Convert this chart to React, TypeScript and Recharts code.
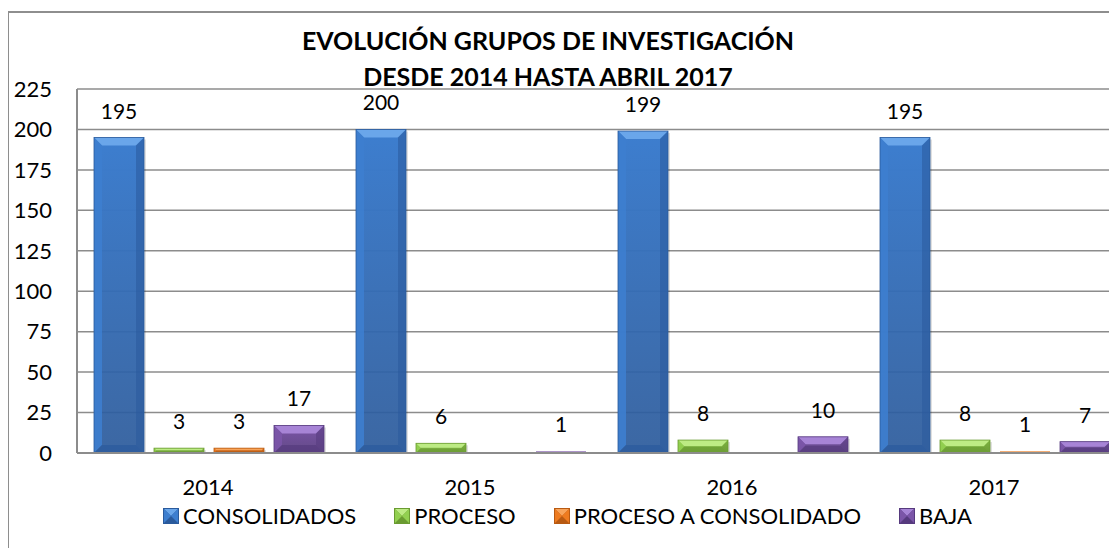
import React from 'react';
import { BarChart, Bar, XAxis, YAxis, CartesianGrid, LabelList, Legend } from 'recharts';

const years = ['2014', '2015', '2016', '2017'];
const consolidados = [195, 200, 199, 195];
const proceso = [3, 6, 8, 8];
const procesoAConsolidado = [3, 0, 0, 1];
const baja = [17, 1, 10, 7];
const yTicks = [0, 25, 50, 75, 100, 125, 150, 175, 200, 225];

const series = [
    { key: 'consolidados', name: 'CONSOLIDADOS', base: '#3d7ecf', light: '#6aa6ea', dark: '#2a5a9c' },
    { key: 'proceso', name: 'PROCESO', base: '#92d050', light: '#bdeb84', dark: '#6a9b31' },
    { key: 'procesoAConsolidado', name: 'PROCESO A CONSOLIDADO', base: '#ee7b1f', light: '#f8a45a', dark: '#b85a12' },
    { key: 'baja', name: 'BAJA', base: '#7b55a8', light: '#a784d6', dark: '#563a7e' },
];

const data = years.map((year, i) => ({
    year,
    consolidados: consolidados[i],
    proceso: proceso[i],
    procesoAConsolidado: procesoAConsolidado[i],
    baja: baja[i],
}));

const FONT = 'Lato, "Open Sans", sans-serif';

const makeBevel = (s: typeof series[number]) => (props: any) => {
    const { x, y, width: w, height: h } = props;
    if (!h || h <= 0) return <g />;
    if (h < 4) {
        return <rect x={x} y={y} width={w} height={h} fill={s.base} />;
    }
    const b = Math.min(8, h / 2.2, w / 3);
    return (
        <g>
            <rect x={x + 2} y={y + 2} width={w} height={h - 2} fill="rgba(0,0,0,0.12)" />
            <rect x={x} y={y} width={w} height={h} fill={`url(#grad-${s.key})`} />
            <polygon points={`${x},${y} ${x + w},${y} ${x + w - b},${y + b} ${x + b},${y + b}`} fill={s.light} />
            <polygon points={`${x},${y} ${x + b},${y + b} ${x + b},${y + h - b} ${x},${y + h}`} fill={s.base} opacity={0.9} />
            <polygon points={`${x + w},${y} ${x + w - b},${y + b} ${x + w - b},${y + h - b} ${x + w},${y + h}`} fill={s.dark} opacity={0.55} />
            <polygon points={`${x},${y + h} ${x + b},${y + h - b} ${x + w - b},${y + h - b} ${x + w},${y + h}`} fill={s.dark} opacity={0.7} />
            <rect x={x} y={y} width={w} height={h} fill="none" stroke={s.dark} strokeWidth={0.8} />
        </g>
    );
};

const LegendContent = () => (
    <div style={{ display: 'flex', alignItems: 'center', fontFamily: FONT, fontSize: 22, color: '#000' }}>
        {series.map((s) => (
            <div key={s.key} style={{ display: 'flex', alignItems: 'center', marginRight: 38 }}>
                <svg width={16} height={16} style={{ marginRight: 4 }}>
                    <rect x={0} y={0} width={16} height={16} fill={s.dark} />
                    <polygon points="1,1 15,1 8,8" fill={s.light} />
                    <polygon points="1,1 8,8 1,15" fill={s.base} />
                    <polygon points="15,1 8,8 15,15" fill={s.base} />
                </svg>
                <span>{s.name}</span>
            </div>
        ))}
    </div>
);

const hideZero = (v: any) => (v === 0 ? '' : v);

export default function App() {
    return (
        <div style={{ position: 'relative', width: 1109, height: 540, overflow: 'hidden', background: '#fff' }}>
            <div style={{ position: 'absolute', left: -1, top: 3, width: 1200, height: 600, border: '2px solid #8e8e8e' }} />
            <div style={{ position: 'absolute', left: 0, top: 14, width: 1080, textAlign: 'center', fontFamily: FONT, fontWeight: 700, fontSize: 25, lineHeight: '36px', color: '#000' }}>
                <div>EVOLUCIÓN GRUPOS DE INVESTIGACIÓN</div>
                <div>DESDE 2014 HASTA ABRIL 2017</div>
            </div>
            <div style={{ position: 'absolute', left: 0, top: 0 }}>
                <BarChart
                    width={1130}
                    height={540}
                    data={data}
                    margin={{ top: 81, right: 13, bottom: 55, left: 0 }}
                    barCategoryGap={17}
                    barGap={10}
                >
                    <defs>
                        {series.map((s) => (
                            <linearGradient key={s.key} id={`grad-${s.key}`} x1="0" y1="0" x2="0" y2="1">
                                <stop offset="0%" stopColor={s.base} />
                                <stop offset="100%" stopColor={s.dark} stopOpacity={0.9} />
                            </linearGradient>
                        ))}
                    </defs>
                    <CartesianGrid vertical={false} stroke="#8c8c8c" strokeWidth={1.5} />
                    <XAxis
                        dataKey="year"
                        axisLine={{ stroke: '#8c8c8c', strokeWidth: 2 }}
                        tickLine={false}
                        tickSize={0}
                        tickMargin={26}
                        height={40}
                        tick={{ fill: '#000', fontSize: 22, fontFamily: FONT }}
                    />
                    <YAxis
                        domain={[0, 225]}
                        ticks={yTicks}
                        interval={0}
                        width={69}
                        axisLine={{ stroke: '#8c8c8c', strokeWidth: 2 }}
                        tickLine={false}
                        tickSize={0}
                        tickMargin={25}
                        tick={{ fill: '#000', fontSize: 22, fontFamily: FONT }}
                    />
                    <Legend
                        verticalAlign="middle"
                        align="center"
                        content={<LegendContent />}
                        wrapperStyle={{ position: 'absolute', left: 155, top: 494, width: 'auto' }}
                    />
                    {series.map((s) => (
                        <Bar key={s.key} dataKey={s.key} name={s.name} fill={s.base} shape={makeBevel(s)} isAnimationActive={false}>
                            <LabelList dataKey={s.key} position="top" offset={19} formatter={hideZero} fill="#000" fontSize={21} fontFamily={FONT} />
                        </Bar>
                    ))}
                </BarChart>
            </div>
        </div>
    );
}
